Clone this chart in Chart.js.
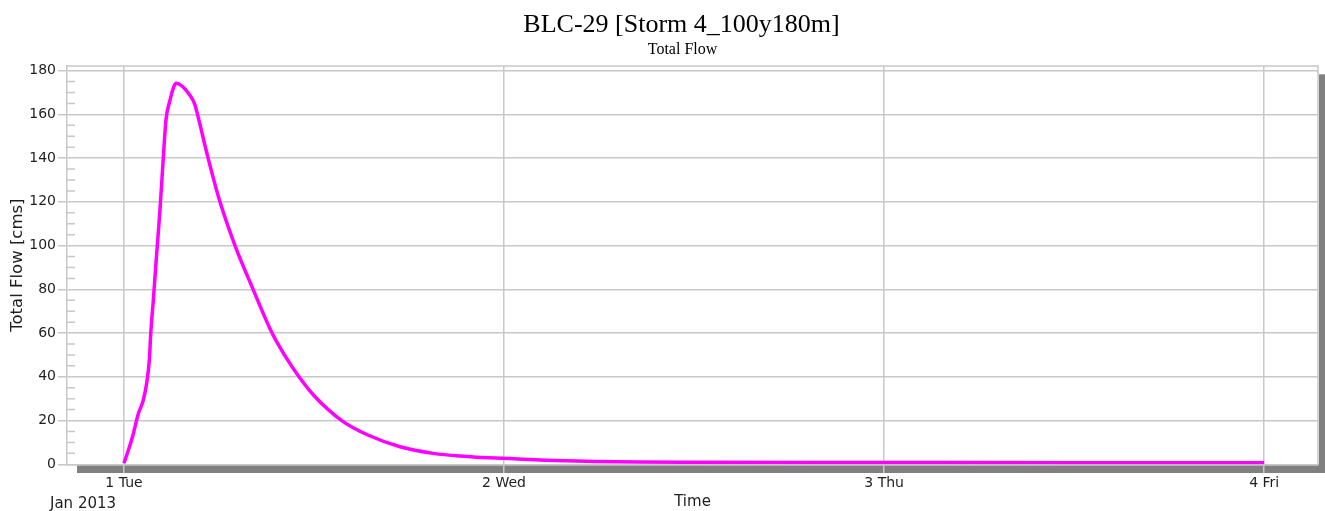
<!DOCTYPE html>
<html>
<head>
<meta charset="utf-8">
<script src="https://cdn.jsdelivr.net/npm/chart.js@4.4.0/dist/chart.umd.min.js"></script>
<style>
  html, body { margin: 0; padding: 0; background: #fff; }
</style>
</head>
<body>
<canvas id="flowChart" width="1325" height="511"></canvas>
<script>
// hours after 1 Jan 2013 00:00, flow in cms
const hours = [0, 0.3, 0.59, 0.9, 1.22, 1.43, 1.6, 1.69, 1.85, 2.02, 2.27, 2.38, 2.48, 2.65, 2.91, 3.11, 3.28,
  4.28, 4.48, 4.64, 5.31, 6.06, 7.01, 8.15, 9.35, 10.2, 11.05, 11.96, 13.75, 15.4, 17.43,
  19.53, 21.64, 23.0, 24.3, 26.3, 29.2, 36.1, 48, 60, 72];
const totalFlow = [0.5, 7, 14, 23, 29.4, 37, 47.7, 60, 75, 92, 116.3, 128.5, 140, 157.4, 166.6, 171.9, 174.2,
  167.4, 164.3, 160, 140, 120, 100, 80, 60, 49.2, 40, 31.7, 20, 13.4, 8.05,
  5, 3.6, 3.0, 2.6, 2.0, 1.4, 0.95, 0.8, 0.75, 0.7];

const dayTicks = [0, 24, 48, 72];
const dayLabels = ["1 Tue", "2 Wed", "3 Thu", "4 Fri"];
const flowTicks = [0, 20, 40, 60, 80, 100, 120, 140, 160, 180];

const chartTitle = "BLC-29 [Storm 4_100y180m]";
const chartSubtitle = "Total Flow";
const monthLabel = "Jan 2013";

const gridColor = "#c8c8c8";
const textColor = "#1e1e1e";
const sans = "'DejaVu Sans', Verdana, sans-serif";
const tickFont = { family: sans, size: 14 };
const titleFont = { family: sans, size: 15 };

// shadow, frame, minor ticks and the titles
const frame = {
  id: "frame",
  beforeDraw(chart) {
    const { ctx, chartArea: a } = chart;
    ctx.save();
    ctx.fillStyle = "#808080";
    ctx.fillRect(a.left + 10, a.bottom, a.right + 7 - (a.left + 10), 8.7);
    ctx.fillRect(a.right + 1, a.top + 8.3, 6, a.bottom - a.top);
    ctx.restore();
  },
  beforeDatasetsDraw(chart) {
    const { ctx, chartArea: a } = chart;
    const y = chart.scales.y;
    ctx.save();
    ctx.strokeStyle = gridColor;
    ctx.lineWidth = 1.5;
    ctx.beginPath();
    ctx.moveTo(a.left, a.top);
    ctx.lineTo(a.right, a.top);
    ctx.lineTo(a.right, a.bottom);
    for (let v = 5; v < 182; v += 5) {
      if (v % 20 === 0) continue;
      const py = y.getPixelForValue(v);
      ctx.moveTo(a.left, py);
      ctx.lineTo(a.left + 8, py);
    }
    ctx.stroke();
    ctx.restore();
  },
  afterDraw(chart) {
    const { ctx, chartArea: a } = chart;
    const cx = (a.left + a.right) / 2 - 11;
    ctx.save();
    ctx.fillStyle = "#000";
    ctx.textAlign = "center";
    ctx.textBaseline = "alphabetic";
    ctx.font = "26px 'Liberation Serif', 'Times New Roman', serif";
    ctx.fillText(chartTitle, cx, 31.7);
    ctx.font = "16px 'Liberation Serif', 'Times New Roman', serif";
    ctx.fillText(chartSubtitle, cx + 1, 54.3);
    ctx.fillStyle = textColor;
    ctx.textAlign = "left";
    ctx.textBaseline = "middle";
    ctx.font = "15px " + sans;
    ctx.fillText(monthLabel, 50, 504);
    ctx.restore();
  }
};

const ctx = document.getElementById("flowChart").getContext("2d");
let flowChart = new Chart(ctx, {
  type: "line",
  data: {
    datasets: [
      {
        label: "Total Flow",
        data: hours.map((h, i) => ({ x: h, y: totalFlow[i] })),
        borderColor: "#ff00ff",
        borderWidth: 3.5,
        pointRadius: 0,
        cubicInterpolationMode: "monotone",
        fill: false,
      },
    ],
  },
  options: {
    responsive: false,
    animation: false,
    devicePixelRatio: 1,
    layout: { padding: { top: 66, right: 7, left: 0, bottom: 0 } },
    plugins: { legend: { display: false }, tooltip: { enabled: false } },
    scales: {
      x: {
        type: "linear",
        min: -3.6,
        max: 75.4,
        afterBuildTicks: (s) => { s.ticks = dayTicks.map((v) => ({ value: v })); },
        afterFit: (s) => { s.height = 46.7; },
        ticks: {
          callback: (v, i) => dayLabels[i],
          autoSkip: false,
          maxRotation: 0,
          padding: 2,
          color: textColor,
          font: tickFont,
        },
        grid: { color: gridColor, lineWidth: 1.5, tickLength: 9 },
        border: { color: gridColor, width: 1.5 },
        title: { display: true, text: "Time", color: textColor, font: titleFont, padding: { top: 0, bottom: 0 } },
      },
      y: {
        min: 0,
        max: 182.1,
        afterBuildTicks: (s) => { s.ticks = flowTicks.map((v) => ({ value: v })); },
        afterFit: (s) => { s.width = 67; },
        ticks: { padding: 2, color: textColor, font: tickFont },
        grid: { color: gridColor, lineWidth: 1.5, tickLength: 9 },
        border: { color: gridColor, width: 1.5 },
        title: {
          display: true,
          text: "Total Flow [cms]",
          color: textColor,
          font: { family: sans, size: 16.5 },
          padding: { top: 8, bottom: 0 },
        },
      },
    },
  },
  plugins: [frame],
});
</script>
</body>
</html>
